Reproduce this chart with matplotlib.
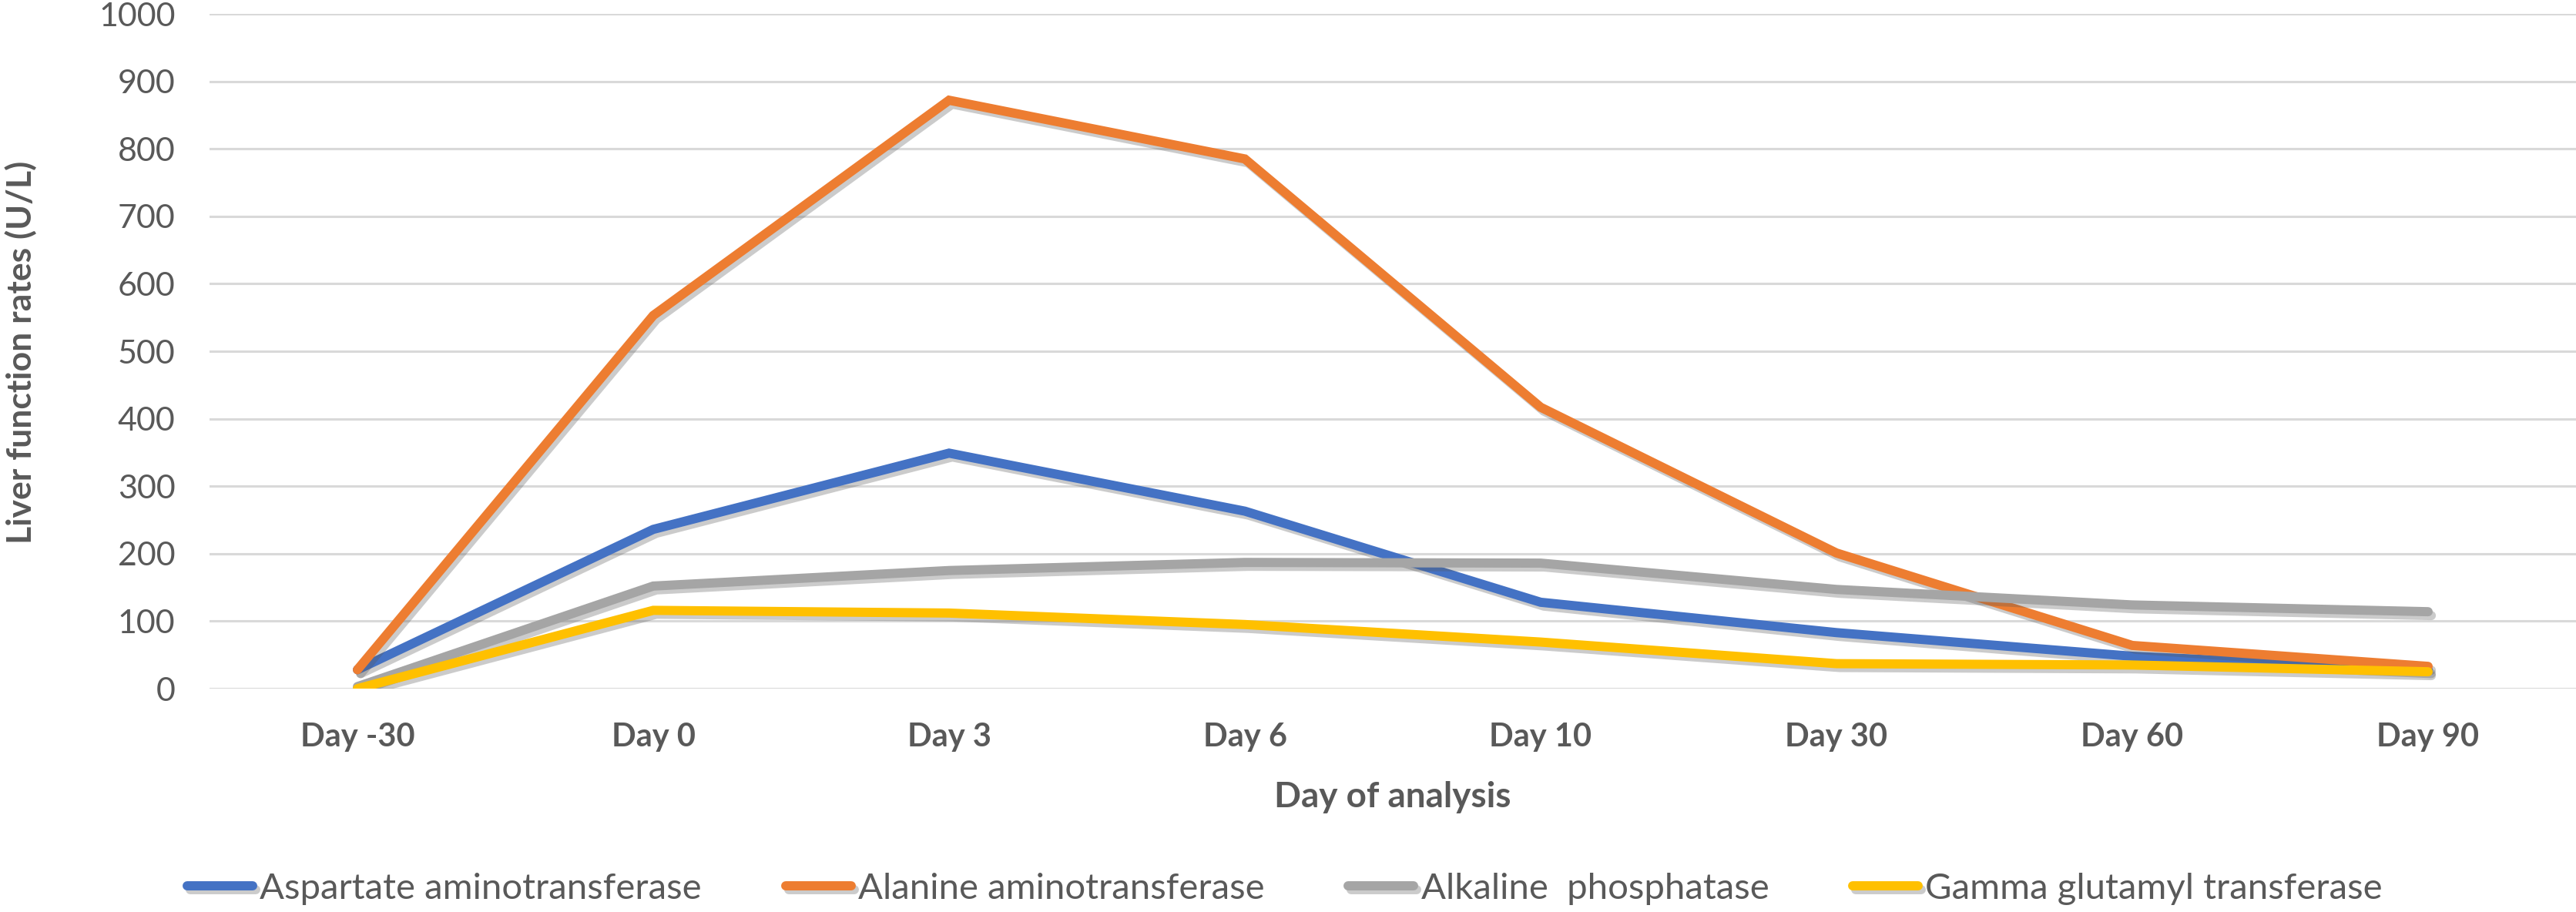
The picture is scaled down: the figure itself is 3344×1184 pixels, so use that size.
import matplotlib
matplotlib.use("Agg")
import matplotlib.pyplot as plt
import matplotlib.patheffects as pe
import numpy as np

days = ["Day -30", "Day 0", "Day 3", "Day 6", "Day 10", "Day 30", "Day 60", "Day 90"]
ast = [28, 236, 349, 263, 128, 83, 48, 28]
alt = [28, 553, 872, 785, 417, 201, 64, 33]
alp = [3, 152, 175, 187, 186, 147, 124, 114]
ggt = [0, 116, 112, 95, 69, 37, 35, 25]

names = ["Aspartate aminotransferase", "Alanine aminotransferase",
         "Alkaline  phosphatase", "Gamma glutamyl transferase"]
colors = ["#4472C4", "#ED7D31", "#A5A5A5", "#FFC000"]

txt = "#595959"
plt.rcParams['font.family'] = ['Lato', 'DejaVu Sans']

W, H, dpi = 3344, 1184, 200
fig = plt.figure(figsize=(W / dpi, H / dpi), dpi=dpi)
# plot area in pixels: x 272..3344, y 18..894
ax = fig.add_axes([272 / W, 1 - 894 / H, 1 - 272 / W, (894 - 18) / H])

x = np.arange(len(days))
shadow = [pe.SimpleLineShadow(offset=(1.5, -1.8), shadow_color="#555555", alpha=0.3),
          pe.Normal()]
for vals, name, c in zip([ast, alt, alp, ggt], names, colors):
    ax.plot(x, vals, color=c, lw=4.3, label=name, solid_joinstyle="miter",
            solid_capstyle="round", path_effects=shadow, zorder=3)

ax.set_xlim(-0.5, len(days) - 0.5)
ax.set_ylim(0, 1000)
ax.set_yticks(np.arange(0, 1001, 100))
ax.set_xticks(x)
ax.set_xticklabels(days, fontweight="bold")
ax.grid(axis="y", color="#D9D9D9", lw=1.1, zorder=0)
ax.set_axisbelow(True)
for s in ax.spines.values():
    s.set_visible(False)
ax.tick_params(axis="y", length=0, pad=16, labelsize=15.5, labelcolor=txt)
ax.tick_params(axis="x", length=0, pad=16, labelsize=15, labelcolor=txt)

fig.text(1808 / W, 1 - 1048 / H, "Day of analysis", ha="center", va="baseline",
         fontsize=16.5, fontweight="bold", color=txt)
fig.text(27 / W, 1 - 457 / H, "Liver function rates (U/L)", ha="center", va="center",
         rotation=90, fontsize=16, fontweight="bold", color=txt)

fig.legend(loc="center", bbox_to_anchor=(0.4988, 1 - 1154 / H), ncol=4, frameon=False,
           fontsize=17, labelcolor=txt, handlelength=1.8, handletextpad=0.2,
           columnspacing=2.3)

fig.savefig("out.png", dpi=dpi)
